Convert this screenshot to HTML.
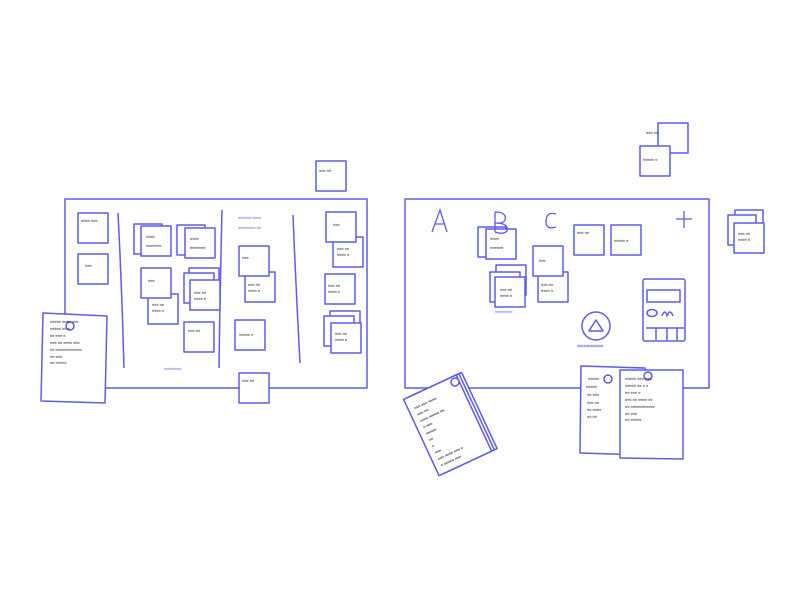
<!DOCTYPE html>
<html><head><style>
html,body{margin:0;padding:0;background:#fff;width:800px;height:600px;overflow:hidden}
svg text{font-family:"Liberation Sans",sans-serif;fill:#222;font-weight:bold}
</style></head><body>
<svg width="800" height="600" viewBox="0 0 800 600" xmlns="http://www.w3.org/2000/svg">
<g fill="#fff" stroke="#5b5bf0" stroke-width="1.5" stroke-linejoin="round">
<rect x="65" y="199" width="302" height="189"/>
<path d="M118 213 Q122 290 124 368" fill="none"/>
<path d="M222 210 Q220 290 219 368" fill="none"/>
<path d="M293 215 Q296 290 300 363" fill="none"/>
<rect x="78" y="213" width="30" height="30"/>
<rect x="78" y="254" width="30" height="30"/>
<rect x="134" y="224" width="28" height="30"/>
<rect x="141" y="226" width="30" height="30"/>
<rect x="177" y="225" width="28" height="30"/>
<rect x="185" y="228" width="30" height="30"/>
<rect x="148" y="294" width="30" height="30"/>
<rect x="141" y="268" width="30" height="30"/>
<rect x="189" y="268" width="30" height="30"/>
<rect x="184" y="273" width="30" height="30"/>
<rect x="190" y="280" width="30" height="30"/>
<rect x="184" y="322" width="30" height="30"/>
<rect x="245" y="272" width="30" height="30"/>
<rect x="239" y="246" width="30" height="30"/>
<rect x="235" y="320" width="30" height="30"/>
<rect x="333" y="237" width="30" height="30"/>
<rect x="326" y="212" width="30" height="30"/>
<rect x="325" y="274" width="30" height="30"/>
<rect x="330" y="311" width="30" height="30"/>
<rect x="324" y="316" width="30" height="30"/>
<rect x="331" y="323" width="30" height="30"/>
<rect x="239" y="373" width="30" height="30"/>
<rect x="316" y="161" width="30" height="30"/>
<polygon points="43,313 107,316 105,403 41,401"/>
<circle cx="70" cy="326" r="4"/>
<rect x="405" y="199" width="304" height="189"/>
<rect x="478" y="227" width="28" height="30"/>
<rect x="486" y="229" width="30" height="30"/>
<rect x="538" y="272" width="30" height="30"/>
<rect x="533" y="246" width="30" height="30"/>
<rect x="574" y="225" width="30" height="30"/>
<rect x="611" y="225" width="30" height="30"/>
<rect x="496" y="265" width="30" height="30"/>
<rect x="490" y="272" width="30" height="30"/>
<rect x="495" y="277" width="30" height="30"/>
<rect x="643" y="279" width="42" height="62" rx="2"/>
<rect x="647" y="290" width="33" height="12" fill="none"/>
<path d="M646 328 H684 M656 328 V340 M667 328 V340 M677 328 V340" fill="none"/>
<ellipse cx="652" cy="313" rx="5" ry="3.5" fill="none"/>
<path d="M662 316 q3 -8 5 0 q3 -8 6 0" fill="none"/>
<circle cx="596" cy="326" r="14" fill="none"/>
<polygon points="596,320 603,331 589,331" fill="none"/>
<rect x="658" y="123" width="30" height="30"/>
<rect x="640" y="146" width="30" height="30"/>
<rect x="735" y="210" width="28" height="30"/>
<rect x="728" y="215" width="28" height="30"/>
<rect x="734" y="223" width="30" height="30"/>
<g transform="translate(5 3) rotate(-25 448 422)">
<rect x="420" y="378" width="58" height="84"/>
<rect x="417" y="378" width="58" height="84"/>
<rect x="414" y="378" width="58" height="84"/>
</g>
<circle cx="455" cy="382" r="4"/>
<polygon points="581,366 645,368 644,455 580,453"/>
<circle cx="608" cy="379" r="4"/>
<polygon points="620,370 683,370 683,459 620,458"/>
<circle cx="648" cy="376" r="4"/>
</g>
<g stroke="#5b5bf0" stroke-width="1.3" fill="none">
<path d="M432 232 L440 210 L447 232 M435 224 H445"/>
<path d="M495 212 V232 M495 212 q12 0 10 8 q-2 4 -10 3 q14 0 12 8 q-4 4 -12 1"/>
<path d="M556 214 q-10 -3 -10 8 q0 8 10 5"/>
<path d="M676 219 H692 M684 211 V228"/>
</g>
<g font-size="4">
<text x="238" y="219" style="fill:#5b5bf0">≈≈≈≈≈≈ ≈≈≈≈</text>
<text x="238" y="229" style="fill:#5b5bf0">≈≈≈≈≈≈≈≈ ≈≈</text>
<text x="164" y="370" style="fill:#5b5bf0">≈≈≈≈≈≈≈≈</text>
<text x="495" y="313" style="fill:#5b5bf0">≈≈≈≈≈≈≈≈</text>
<text x="577" y="348" style="fill:#5b5bf0" font-size="6">≈≈≈≈≈≈≈≈</text>
</g>
<g font-size="4">
<text x="81" y="222">≈≈≈≈ ≈≈≈</text><text x="85" y="267">≈≈≈</text>
<text x="146" y="238">≈≈≈≈</text><text x="146" y="247">≈≈≈≈≈≈≈</text>
<text x="190" y="240">≈≈≈≈</text><text x="190" y="249">≈≈≈≈≈≈≈</text>
<text x="148" y="282">≈≈≈</text><text x="152" y="306">≈≈≈ ≈≈</text><text x="152" y="312">≈≈≈≈ ≈</text>
<text x="194" y="294">≈≈≈ ≈≈</text><text x="194" y="300">≈≈≈≈ ≈</text>
<text x="188" y="332">≈≈≈ ≈≈</text><text x="242" y="259">≈≈≈</text>
<text x="248" y="286">≈≈≈ ≈≈</text><text x="248" y="292">≈≈≈≈ ≈</text>
<text x="239" y="336">≈≈≈≈≈ ≈</text><text x="333" y="226">≈≈≈</text>
<text x="337" y="250">≈≈≈ ≈≈</text><text x="337" y="256">≈≈≈≈ ≈</text>
<text x="328" y="287">≈≈≈ ≈≈</text><text x="328" y="293">≈≈≈≈ ≈</text>
<text x="335" y="335">≈≈≈ ≈≈</text><text x="335" y="341">≈≈≈≈ ≈</text>
<text x="242" y="382">≈≈≈ ≈≈</text><text x="319" y="172">≈≈≈ ≈≈</text>
<text x="50" y="323">≈≈≈≈≈ ≈≈≈≈ ≈≈≈</text><text x="50" y="330">≈≈≈≈≈     ≈≈ ≈</text>
<text x="50" y="337">≈≈ ≈≈≈ ≈</text><text x="50" y="344">≈≈≈ ≈≈ ≈≈≈≈ ≈≈≈</text>
<text x="50" y="351">≈≈ ≈≈≈≈≈≈≈≈≈≈≈≈</text><text x="50" y="358">≈≈ ≈≈≈</text><text x="50" y="364">≈≈ ≈≈≈≈≈</text>
<text x="490" y="240">≈≈≈≈</text><text x="490" y="249">≈≈≈≈≈≈</text>
<text x="539" y="262">≈≈≈</text><text x="541" y="286">≈≈≈ ≈≈</text><text x="541" y="292">≈≈≈≈ ≈</text>
<text x="577" y="234">≈≈≈ ≈≈</text><text x="614" y="242">≈≈≈≈≈ ≈</text>
<text x="500" y="291">≈≈≈ ≈≈</text><text x="500" y="297">≈≈≈≈ ≈</text>
<text x="646" y="134">≈≈≈ ≈≈</text><text x="643" y="161">≈≈≈≈≈ ≈</text>
<text x="738" y="235">≈≈≈ ≈≈</text><text x="738" y="241">≈≈≈≈ ≈</text>
<text x="588" y="380">≈≈≈≈≈</text><text x="586" y="388">≈≈≈≈≈</text><text x="587" y="396">≈≈ ≈≈≈</text>
<text x="587" y="404">≈≈≈ ≈≈</text><text x="587" y="411">≈≈ ≈≈≈≈</text><text x="587" y="418">≈≈ ≈≈</text>
<text x="625" y="380">≈≈≈≈≈ ≈≈≈ ≈≈≈</text><text x="625" y="387">≈≈≈≈≈ ≈≈ ≈ ≈</text>
<text x="625" y="394">≈≈ ≈≈≈ ≈</text><text x="625" y="401">≈≈≈ ≈≈ ≈≈≈≈ ≈≈</text>
<text x="625" y="408">≈≈ ≈≈≈≈≈≈≈≈≈≈≈</text><text x="625" y="415">≈≈ ≈≈≈</text><text x="625" y="421">≈≈ ≈≈≈≈≈</text>
<g transform="translate(5 3) rotate(-25 448 422)">
<text x="420" y="392">≈≈≈ ≈≈≈ ≈≈≈≈</text><text x="420" y="399">≈≈≈ ≈≈</text>
<text x="420" y="406">≈≈≈≈ ≈≈≈≈≈ ≈≈</text><text x="420" y="413">≈ ≈≈≈</text>
<text x="420" y="420">≈≈≈≈≈</text><text x="420" y="427">≈≈</text><text x="420" y="434">≈</text>
<text x="420" y="441">≈≈≈</text><text x="420" y="448">≈≈≈ ≈≈≈≈ ≈≈≈ ≈</text><text x="420" y="455">≈ ≈≈≈≈≈ ≈≈≈</text>
</g>
</g>
</svg>
</body></html>
